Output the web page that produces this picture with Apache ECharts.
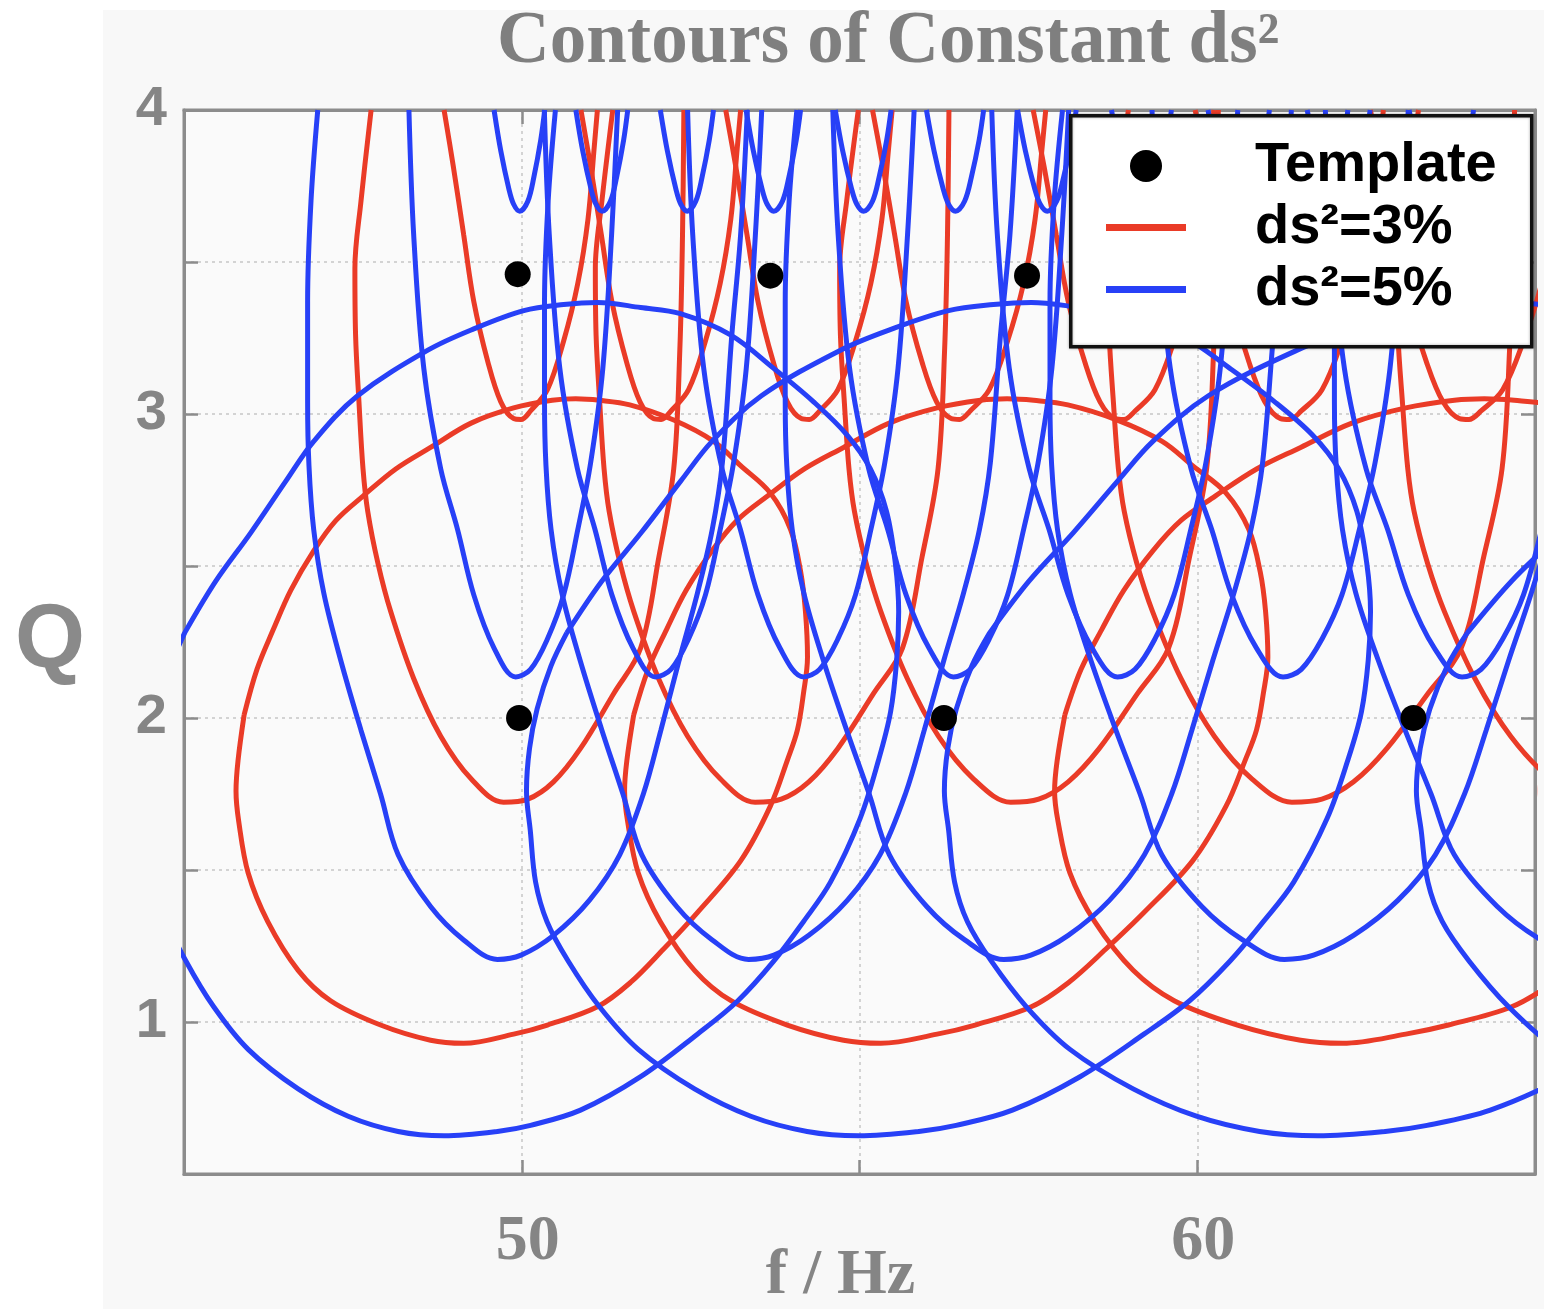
<!DOCTYPE html>
<html><head><meta charset="utf-8">
<script src="https://cdn.jsdelivr.net/npm/echarts/dist/echarts.min.js"></script>
<style>html,body{margin:0;padding:0;background:#fff}#c{width:1544px;height:1309px}</style>
</head><body><div id="c"></div>
<script>
// ---------------- data ----------------
const xTickLabels = [50, 60];
const yTickLabels = [1, 2, 3, 4];

// template positions (f in Hz, Q)
const templateF = [49.96, 56.25, 63.20, 49.94, 53.68, 57.48];
const templateQ = [2.00, 2.00, 2.00, 3.46, 3.455, 3.455];

// row A (Q = 2) : reference contours drawn around the template at f = 49.97
const rowA_ref = 49.97;
const rowA_centres = [49.97, 56.25, 63.20, 71.05];
const rowA_red3 = [[45.89,2.01],[46.08,2.16],[46.32,2.29],[46.58,2.42],[46.92,2.55],[47.25,2.65],[47.65,2.73],[48.14,2.82],[48.65,2.89],[49.25,2.97],[49.88,3.02],[50.45,3.045],[50.80,3.05],[51.15,3.045],[51.60,3.03],[52.25,2.98],[52.84,2.91],[53.24,2.83],[53.68,2.74],[53.98,2.62],[54.13,2.48],[54.20,2.35],[54.23,2.20],[54.17,2.08],[54.08,1.96],[53.93,1.86],[53.68,1.71],[53.24,1.53],[52.60,1.36],[52.10,1.24],[51.61,1.13],[51.12,1.05],[50.38,0.99],[49.88,0.96],[49.14,0.93],[48.65,0.94],[47.91,0.99],[47.17,1.07],[46.69,1.17],[46.24,1.33],[45.95,1.49],[45.81,1.66],[45.77,1.76],[45.80,1.86],[45.89,2.01]];
const rowA_blue5 = [[45.01,2.28],[45.47,2.45],[45.99,2.61],[46.51,2.78],[46.92,2.91],[47.57,3.06],[48.61,3.21],[49.29,3.28],[50.03,3.34],[50.62,3.36],[51.12,3.367],[51.76,3.35],[52.35,3.33],[53.09,3.26],[53.73,3.15],[54.32,3.04],[54.82,2.93],[55.16,2.82],[55.40,2.68],[55.53,2.51],[55.58,2.35],[55.55,2.19],[55.46,2.02],[55.28,1.86],[55.01,1.67],[54.57,1.46],[54.17,1.33],[53.73,1.20],[53.20,1.07],[52.60,0.96],[51.76,0.82],[50.87,0.71],[50.13,0.66],[49.64,0.64],[48.85,0.626],[48.17,0.64],[47.43,0.69],[46.69,0.78],[45.95,0.91],[45.44,1.05],[45.03,1.20],[44.75,1.33],[44.60,1.46],[44.53,1.63],[44.48,1.76],[44.52,1.90],[44.62,2.03],[44.80,2.17],[45.01,2.28]];

// row B (Q = 3.46)
const rowB_ref = 49.94;
const rowB_centres = [49.94, 53.68, 57.48, 61.66, 66.15];
const rowB_red3 = [[47.77,4.0],[47.62,3.70],[47.53,3.48],[47.54,3.26],[47.59,3.04],[47.65,2.82],[47.72,2.68],[47.87,2.51],[48.06,2.35],[48.40,2.13],[48.80,1.94],[49.25,1.80],[49.73,1.723],[50.09,1.733],[50.47,1.79],[50.87,1.90],[51.36,2.08],[51.76,2.23],[52.03,2.53],[52.25,2.82],[52.34,3.21],[52.38,3.59],[52.40,4.0]];
const rowB_blue5 = [[46.98,4.0],[46.88,3.70],[46.83,3.37],[46.83,3.04],[46.85,2.83],[46.92,2.62],[47.07,2.41],[47.32,2.19],[47.62,1.96],[47.91,1.75],[48.17,1.55],[48.65,1.38],[49.14,1.27],[49.64,1.206],[49.99,1.22],[50.47,1.285],[51.00,1.40],[51.45,1.55],[51.80,1.75],[52.06,1.96],[52.33,2.19],[52.60,2.41],[52.82,2.62],[52.97,2.84],[53.11,3.26],[53.24,3.59],[53.34,4.0]];

// row C (templates above the frame, Q ~ 6)
const rowC_ref = 49.91;
const rowC_centres = [49.91, 51.98, 54.17, 56.39, 58.82, 61.27, 63.92];
const rowC_red3 = [[48.85,4.0],[48.99,3.81],[49.14,3.59],[49.29,3.37],[49.50,3.17],[49.69,3.04],[49.88,2.985],[49.99,2.982],[50.13,3.01],[50.38,3.08],[50.62,3.24],[50.83,3.43],[50.98,3.64],[51.07,3.87],[51.12,4.0]];
const rowC_blue5 = [[48.33,4.0],[48.40,3.59],[48.55,3.15],[48.80,2.82],[49.05,2.62],[49.29,2.405],[49.59,2.23],[49.91,2.135],[50.13,2.16],[50.38,2.26],[50.62,2.405],[50.83,2.62],[51.02,2.84],[51.20,3.15],[51.33,3.59],[51.42,4.0]];

// row D (templates far above the frame, Q ~ 10)
const rowD_ref = 49.97;
const rowD_centres = [49.97, 51.19, 52.45, 53.73, 55.06, 56.42, 57.78, 59.18, 60.62, 62.10, 63.62];
const rowD_blue5 = [[49.59,4.0],[49.69,3.865],[49.81,3.74],[49.88,3.69],[49.97,3.667],[50.09,3.70],[50.18,3.78],[50.28,3.90],[50.34,4.0]];

// ---------------- styling ----------------
const RED = '#ea3b27';
const BLUE = '#2740f7';
const GREY = '#858585';
const NAME3 = 'ds²=3%';
const NAME5 = 'ds²=5%';

const series = [];
function addFamily(shape, ref, centres, name, color) {
  centres.forEach(function (c) {
    series.push({
      type: 'line', name: name,
      data: shape.map(function (p) { return [p[0] * c / ref, p[1]]; }),
      symbol: 'none', showSymbol: false, smooth: 0.35, clip: true, silent: true,
      lineStyle: { color: color, width: 5, opacity: 1 }, itemStyle: { color: color }, z: 2
    });
  });
}
addFamily(rowA_red3, rowA_ref, rowA_centres, NAME3, RED);
addFamily(rowB_red3, rowB_ref, rowB_centres, NAME3, RED);
addFamily(rowC_red3, rowC_ref, rowC_centres, NAME3, RED);
addFamily(rowA_blue5, rowA_ref, rowA_centres, NAME5, BLUE);
addFamily(rowB_blue5, rowB_ref, rowB_centres, NAME5, BLUE);
addFamily(rowC_blue5, rowC_ref, rowC_centres, NAME5, BLUE);
addFamily(rowD_blue5, rowD_ref, rowD_centres, NAME5, BLUE);
series.push({
  type: 'scatter', name: 'Template',
  data: templateF.map(function (f, i) { return [f, templateQ[i]]; }),
  symbol: 'circle', symbolSize: 26, itemStyle: { color: '#000', opacity: 1 }, z: 5, silent: true
});

const axisLineStyle = { color: '#8c8c8c', width: 3 };
const tickStyle = { color: '#8c8c8c', width: 2.5 };
const splitStyle = { color: '#c6c6c6', type: [3, 4], width: 1.5 };

const option = {
  animation: false,
  backgroundColor: '#ffffff',
  title: {
    text: 'Contours of Constant ds²', left: 497, top: 7, padding: 0,
    textStyle: { fontFamily: 'Liberation Serif', fontWeight: 'bold', fontSize: 73, color: '#7f7f7f' }
  },
  graphic: [
    { type: 'rect', left: 103, top: 10, z: -10, shape: { width: 1441, height: 1299 }, style: { fill: '#f8f8f8' } },
    { type: 'rect', left: 1069, top: 114, z: 50, shape: { width: 461, height: 231 }, style: { fill: '#ffffff', stroke: '#111111', lineWidth: 3.5, shadowBlur: 3, shadowColor: 'rgba(0,0,0,0.35)' } }
  ],
  legend: {
    orient: 'vertical', left: 1106, top: 138, padding: 0, itemWidth: 80, itemHeight: 32, itemGap: 6,
    z: 60, selectedMode: false,
    data: [
      { name: 'Template', icon: 'circle', itemStyle: { color: '#000', borderWidth: 0, opacity: 1 } },
      { name: NAME3, icon: 'path://M0,0L0,0M0,12L80,12L80,19L0,19ZM80,32L80,32', itemStyle: { color: RED, borderWidth: 0, opacity: 1 } },
      { name: NAME5, icon: 'path://M0,0L0,0M0,12L80,12L80,19L0,19ZM80,32L80,32', itemStyle: { color: BLUE, borderWidth: 0, opacity: 1 } }
    ],
    formatter: function (n) { return '{t|' + n + '}'; },
    textStyle: {
      fontFamily: 'Liberation Sans', fontWeight: 'bold', fontSize: 56, color: '#000',
      rich: { t: { fontFamily: 'Liberation Sans', fontWeight: 'bold', fontSize: 56, lineHeight: 56, color: '#000', padding: [0, 0, 0, 64] } }
    }
  },
  grid: {
    left: 184, right: 9, top: 110, bottom: 135, show: true,
    backgroundColor: '#fafafa', borderColor: '#8c8c8c', borderWidth: 3,
    outerBoundsMode: 'none', containLabel: false
  },
  xAxis: [{
    type: 'value', min: 45, max: 65, interval: 5, position: 'bottom',
    axisLine: { show: true, lineStyle: axisLineStyle },
    axisTick: { show: true, inside: true, length: 14, lineStyle: tickStyle },
    axisLabel: {
      formatter: function (v) { return xTickLabels.indexOf(v) >= 0 ? String(v) : ''; },
      fontFamily: 'Liberation Serif', fontWeight: 'bold', fontSize: 64, color: GREY, margin: 36,
      padding: [0, 0, 0, 12]
    },
    splitLine: { show: true, lineStyle: splitStyle },
    name: 'f / Hz', nameLocation: 'middle', nameGap: 70, nameMoveOverlap: false,
    nameTextStyle: { fontFamily: 'Liberation Serif', fontWeight: 'bold', fontSize: 64, color: GREY, padding: [0, 38, 0, 0] }
  }, {
    type: 'value', min: 45, max: 65, interval: 5, position: 'top',
    axisLine: { show: true, lineStyle: axisLineStyle },
    axisTick: { show: true, inside: true, length: 14, lineStyle: tickStyle },
    axisLabel: { show: false }, splitLine: { show: false }
  }],
  yAxis: [{
    type: 'value', min: 0.5, max: 4, interval: 0.5, position: 'left',
    axisLine: { show: true, lineStyle: axisLineStyle },
    axisTick: { show: true, inside: true, length: 14, lineStyle: tickStyle },
    axisLabel: {
      formatter: function (v) { return yTickLabels.indexOf(v) >= 0 ? String(v) : ''; },
      fontFamily: 'Liberation Sans', fontWeight: 'bold', fontSize: 56, color: GREY, margin: 17
    },
    splitLine: { show: true, lineStyle: splitStyle },
    name: 'Q', nameLocation: 'middle', nameGap: 99, nameRotate: 0, nameMoveOverlap: false,
    nameTextStyle: { fontFamily: 'Liberation Sans', fontWeight: 'bold', fontSize: 90, color: '#8a8a8a' }
  }, {
    type: 'value', min: 0.5, max: 4, interval: 0.5, position: 'right',
    axisLine: { show: true, lineStyle: axisLineStyle },
    axisTick: { show: true, inside: true, length: 14, lineStyle: tickStyle },
    axisLabel: { show: false }, splitLine: { show: false }
  }],
  series: series
};
const chart = echarts.init(document.getElementById('c'), null, { renderer: 'canvas' });
chart.setOption(option);
</script></body></html>
